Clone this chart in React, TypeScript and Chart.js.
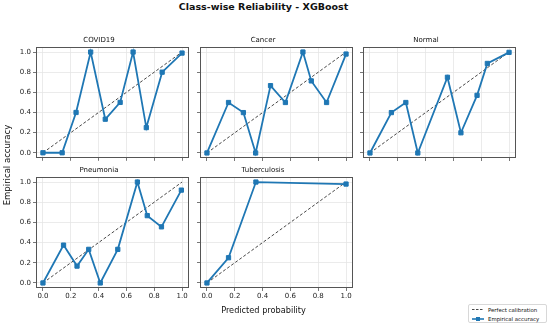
import React, { useEffect, useRef } from "react";
import { Chart, registerables } from "chart.js";

Chart.register(...registerables);

const FONT = "'DejaVu Sans', sans-serif";
const BLUE = "#1f77b4";
const GRID = "#e6e6e6";

// ---- data ----
const covidX = [0.0, 0.138, 0.238, 0.343, 0.448, 0.555, 0.648, 0.743, 0.857, 1.0];
const covidY = [0.0, 0.0, 0.4, 1.0, 0.333, 0.5, 1.0, 0.25, 0.8, 0.99];

const cancerX = [0.0, 0.155, 0.262, 0.35, 0.457, 0.564, 0.69, 0.75, 0.86, 1.0];
const cancerY = [0.0, 0.5, 0.4, 0.0, 0.667, 0.5, 1.0, 0.714, 0.5, 0.98];

const normalX = [0.0, 0.154, 0.258, 0.344, 0.557, 0.654, 0.77, 0.844, 1.0];
const normalY = [0.0, 0.4, 0.5, 0.0, 0.75, 0.2, 0.571, 0.887, 0.997];

const pneumoniaX = [0.0, 0.148, 0.245, 0.329, 0.412, 0.538, 0.679, 0.75, 0.852, 0.995];
const pneumoniaY = [0.0, 0.375, 0.167, 0.333, 0.0, 0.333, 1.0, 0.667, 0.556, 0.92];

const tbX = [0.0, 0.155, 0.352, 1.0];
const tbY = [0.0, 0.25, 1.0, 0.98];

const perfectX = [0, 1];
const perfectY = [0, 1];

const tickValues = [0, 0.2, 0.4, 0.6, 0.8, 1.0];

const panels = [
  { title: "COVID19", xs: covidX, ys: covidY, col: 0, row: 0 },
  { title: "Cancer", xs: cancerX, ys: cancerY, col: 1, row: 0 },
  { title: "Normal", xs: normalX, ys: normalY, col: 2, row: 0 },
  { title: "Pneumonia", xs: pneumoniaX, ys: pneumoniaY, col: 0, row: 1 },
  { title: "Tuberculosis", xs: tbX, ys: tbY, col: 1, row: 1 },
];

// ---- layout ----
const BOX_W = 154;
const BOX_H = 111;
const Y_AXIS_W = 28;
const TITLE_H = 12;
const PAD_R = 4;
const colLefts = [36, 200, 363];
const rowTops = [47, 177];

const framePlugin = {
  id: "frame",
  afterDatasetsDraw(chart: any) {
    const { ctx, chartArea } = chart;
    ctx.save();
    ctx.strokeStyle = "#555";
    ctx.lineWidth = 1;
    ctx.strokeRect(
      Math.round(chartArea.left) + 0.5,
      Math.round(chartArea.top) + 0.5,
      Math.round(chartArea.right - chartArea.left) - 1,
      Math.round(chartArea.bottom - chartArea.top) - 1
    );
    ctx.restore();
  },
};

function Panel(props: {
  title: string;
  xs: number[];
  ys: number[];
  col: number;
  row: number;
}) {
  const { title, xs, ys, col, row } = props;
  const ref = useRef<HTMLCanvasElement>(null);
  const showX = row === 1;
  const showY = col === 0;
  const xH = showX ? 14 : 6;
  const width = Y_AXIS_W + BOX_W + PAD_R;
  const height = TITLE_H + BOX_H + xH;

  useEffect(() => {
    if (!ref.current) return;
    const tickFont = { family: FONT, size: 7 };
    const chart = new Chart(ref.current, {
      type: "line",
      data: {
        datasets: [
          {
            label: "Empirical accuracy",
            data: xs.map((x, i) => ({ x, y: ys[i] })),
            borderColor: BLUE,
            backgroundColor: BLUE,
            borderWidth: 1.8,
            pointStyle: "rect",
            pointRadius: 3,
            pointBorderWidth: 1,
            pointBackgroundColor: BLUE,
            pointBorderColor: BLUE,
            tension: 0,
            order: 0,
          },
          {
            label: "Perfect calibration",
            data: perfectX.map((x, i) => ({ x, y: perfectY[i] })),
            borderColor: "#333",
            borderWidth: 0.9,
            borderDash: [3, 2],
            pointRadius: 0,
            tension: 0,
            order: 1,
          },
        ],
      } as any,
      options: {
        responsive: false,
        animation: false,
        devicePixelRatio: 1,
        layout: { padding: { left: 0, right: PAD_R, top: 0, bottom: 0 } },
        plugins: {
          legend: { display: false },
          tooltip: { enabled: false },
          title: {
            display: true,
            text: title,
            color: "#111",
            font: { family: FONT, size: 7, lineHeight: 1.2, weight: "normal" },
            padding: { top: 1.4, bottom: 2.2 },
          },
        },
        scales: {
          x: {
            type: "linear",
            min: -0.05,
            max: 1.05,
            afterBuildTicks: (s: any) => {
              s.ticks = tickValues.map((v) => ({ value: v }));
            },
            afterFit: (s: any) => {
              s.height = xH;
            },
            grid: {
              color: GRID,
              lineWidth: 0.8,
              drawTicks: true,
              tickLength: 3,
              tickColor: "#555",
              tickWidth: 0.8,
            },
            border: { display: false },
            ticks: {
              display: showX,
              padding: 1,
              autoSkip: false,
              maxRotation: 0,
              color: "#222",
              font: tickFont,
              callback: (v: any) => Number(v).toFixed(1),
            },
          },
          y: {
            type: "linear",
            min: -0.05,
            max: 1.05,
            afterBuildTicks: (s: any) => {
              s.ticks = tickValues.map((v) => ({ value: v }));
            },
            afterFit: (s: any) => {
              s.width = Y_AXIS_W;
            },
            grid: {
              color: GRID,
              lineWidth: 0.8,
              drawTicks: true,
              tickLength: 3,
              tickColor: "#555",
              tickWidth: 0.8,
            },
            border: { display: false },
            ticks: {
              display: showY,
              padding: 2,
              autoSkip: false,
              color: "#222",
              font: tickFont,
              callback: (v: any) => Number(v).toFixed(1),
            },
          },
        },
      } as any,
      plugins: [framePlugin],
    });
    return () => chart.destroy();
  }, []);

  return (
    <canvas
      ref={ref}
      width={width}
      height={height}
      style={{
        position: "absolute",
        left: colLefts[col] - Y_AXIS_W,
        top: rowTops[row] - TITLE_H,
        width,
        height,
      }}
    />
  );
}

export default function App() {
  return (
    <div
      style={{
        position: "fixed",
        left: 0,
        top: 0,
        width: 550,
        height: 328,
        background: "#fff",
        fontFamily: FONT,
        color: "#111",
        overflow: "hidden",
      }}
    >
      <div
        style={{
          position: "absolute",
          left: 163.5,
          width: 200,
          top: 1,
          textAlign: "center",
          fontWeight: "bold",
          fontSize: 9.5,
          lineHeight: "12px",
          whiteSpace: "nowrap",
        }}
      >
        Class-wise Reliability - XGBoost
      </div>
      {panels.map((p) => (
        <Panel key={p.title} {...p} />
      ))}
      <div
        style={{
          position: "absolute",
          left: 7 - 60,
          top: 165 - 6,
          width: 120,
          height: 12,
          lineHeight: "12px",
          textAlign: "center",
          fontSize: 8.5,
          transform: "rotate(-90deg)",
          whiteSpace: "nowrap",
        }}
      >
        Empirical accuracy
      </div>
      <div
        style={{
          position: "absolute",
          left: 263.5 - 60,
          top: 310 - 6,
          width: 120,
          height: 12,
          lineHeight: "12px",
          textAlign: "center",
          fontSize: 8.2,
          whiteSpace: "nowrap",
        }}
      >
        Predicted probability
      </div>
      <div
        style={{
          position: "absolute",
          left: 468,
          top: 304,
          width: 79,
          height: 19,
          border: "1px solid #d8d8d8",
          borderRadius: 2,
          boxSizing: "border-box",
          fontSize: 5.4,
          background: "#fff",
        }}
      >
        <svg width={14} height={17} style={{ position: "absolute", left: 2, top: 0 }}>
          <line x1={1} y1={4.5} x2={13} y2={4.5} stroke="#333" strokeWidth={0.9} strokeDasharray="2.5,1.5" />
          <line x1={1} y1={14} x2={13} y2={14} stroke={BLUE} strokeWidth={1.6} />
          <rect x={5} y={12} width={4} height={4} fill={BLUE} />
        </svg>
        <div style={{ position: "absolute", left: 19, top: 1.5, lineHeight: "7px", whiteSpace: "nowrap" }}>
          Perfect calibration
        </div>
        <div style={{ position: "absolute", left: 19, top: 10.5, lineHeight: "7px", whiteSpace: "nowrap" }}>
          Empirical accuracy
        </div>
      </div>
    </div>
  );
}
